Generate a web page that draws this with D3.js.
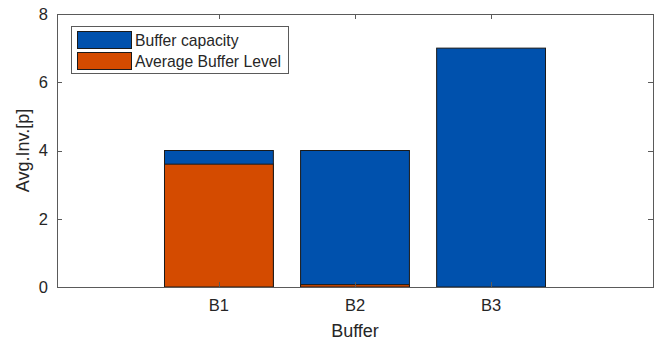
<!DOCTYPE html>
<html>
<head>
<meta charset="utf-8">
<script src="https://cdn.jsdelivr.net/npm/d3@7"></script>
<style>
  html, body { margin: 0; padding: 0; background: #fff; }
  svg { display: block; font-family: "Liberation Sans", Arial, sans-serif; }
</style>
</head>
<body>
<svg id="chart" width="659" height="342"></svg>
<script>
// Buffer data
const categories = ["B1", "B2", "B3"];
const bufferCapacity = [4, 4, 7];
const averageBufferLevel = [3.6, 0.07, 0];
const yTicks = [0, 2, 4, 6, 8];
const seriesNames = ["Buffer capacity", "Average Buffer Level"];

const colors = { capacity: "#0051ad", level: "#d44b00" };
const axisColor = "#5a5a5a";
const textColor = "#262626";

const svg = d3.select("#chart");
const plot = { left: 57, right: 653, top: 14, bottom: 287 };

const x = d3.scaleLinear().domain([-0.19, 4.19]).range([plot.left, plot.right]);
const y = d3.scaleLinear().domain([0, 8]).range([plot.bottom, plot.top]);
const barWidth = 0.8;

const idx = categories.map((c, i) => i);

// Capacity bars
svg.append("g").selectAll("rect").data(idx).join("rect")
  .attr("x", i => x(i + 1 - barWidth / 2))
  .attr("width", i => x(i + 1 + barWidth / 2) - x(i + 1 - barWidth / 2))
  .attr("y", i => y(bufferCapacity[i]))
  .attr("height", i => y(0) - y(bufferCapacity[i]))
  .attr("fill", colors.capacity)
  .attr("stroke", "#1a1a1a").attr("stroke-width", 1);

// Average level bars, drawn over the capacity bars
svg.append("g").selectAll("rect").data(idx.filter(i => averageBufferLevel[i] > 0)).join("rect")
  .attr("x", i => x(i + 1 - barWidth / 2))
  .attr("width", i => x(i + 1 + barWidth / 2) - x(i + 1 - barWidth / 2))
  .attr("y", i => y(averageBufferLevel[i]))
  .attr("height", i => y(0) - y(averageBufferLevel[i]))
  .attr("fill", colors.level)
  .attr("stroke", "#1a1a1a").attr("stroke-width", 1);

// Axes box with inward ticks
const tickLen = 5;
const axes = svg.append("g").attr("stroke", axisColor).attr("stroke-width", 1).attr("fill", "none");
axes.append("rect")
  .attr("x", plot.left + 0.5).attr("y", plot.top + 0.5)
  .attr("width", plot.right - plot.left).attr("height", plot.bottom - plot.top);

yTicks.forEach(t => {
  const yy = Math.round(y(t)) + 0.5;
  axes.append("line").attr("x1", plot.left).attr("x2", plot.left + tickLen).attr("y1", yy).attr("y2", yy);
  axes.append("line").attr("x1", plot.right - tickLen).attr("x2", plot.right).attr("y1", yy).attr("y2", yy);
});
categories.forEach((c, i) => {
  const xx = Math.round(x(i + 1)) + 0.5;
  axes.append("line").attr("x1", xx).attr("x2", xx).attr("y1", plot.bottom).attr("y2", plot.bottom - tickLen);
  axes.append("line").attr("x1", xx).attr("x2", xx).attr("y1", plot.top).attr("y2", plot.top + tickLen);
});

// Tick labels
const labels = svg.append("g").attr("fill", textColor).style("font-size", "16.5px");
yTicks.forEach(t => {
  labels.append("text").attr("x", plot.left - 9).attr("y", y(t)).attr("dy", "0.35em")
    .attr("text-anchor", "end").text(t);
});
categories.forEach((c, i) => {
  labels.append("text").attr("x", x(i + 1)).attr("y", 311)
    .attr("text-anchor", "middle").text(c);
});

// Axis titles
svg.append("text").attr("x", x(2)).attr("y", 337).attr("text-anchor", "middle")
  .attr("fill", textColor).style("font-size", "18px").text("Buffer");
svg.append("text").attr("transform", `translate(29,${(plot.top + plot.bottom) / 2}) rotate(-90)`)
  .attr("text-anchor", "middle").attr("fill", textColor).style("font-size", "18px").text("Avg.Inv.[p]");

// Legend
const legend = svg.append("g");
legend.append("rect").attr("x", 71.5).attr("y", 26.5).attr("width", 217).attr("height", 47)
  .attr("fill", "#fff").attr("stroke", axisColor);
[colors.capacity, colors.level].forEach((col, k) => {
  const yy = 31.5 + k * 21;
  legend.append("rect").attr("x", 77.5).attr("y", yy).attr("width", 54).attr("height", 17)
    .attr("fill", col).attr("stroke", "#1a1a1a");
  legend.append("text").attr("x", 135).attr("y", yy + 9).attr("dy", "0.35em")
    .attr("fill", textColor).style("font-size", "15.7px").text(seriesNames[k]);
});
</script>
</body>
</html>
